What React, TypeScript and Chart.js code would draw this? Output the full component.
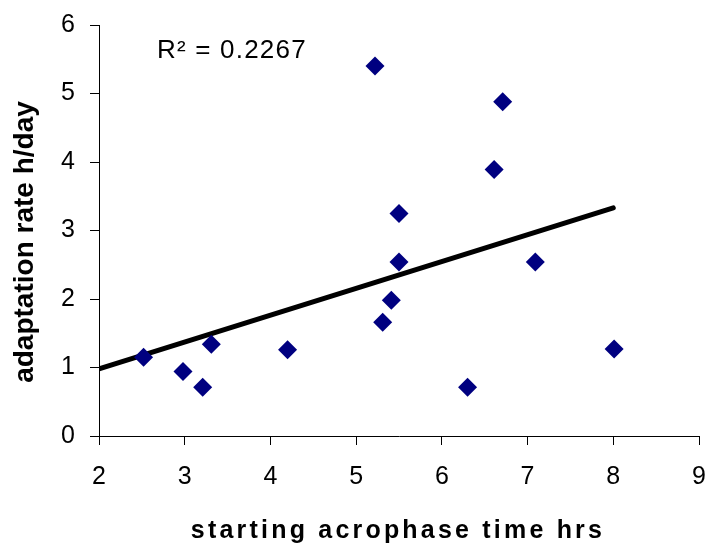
import React, { useEffect, useRef } from 'react';
import { Chart, registerables } from 'chart.js';

Chart.register(...registerables);

const acrophase = [2.52, 2.98, 3.21, 3.31, 4.2, 5.22, 5.31, 5.41, 5.5, 5.5, 6.3, 6.61, 6.71, 7.09, 8.01];
const adaptation = [1.15, 0.94, 0.71, 1.34, 1.26, 5.4, 1.66, 1.98, 3.25, 2.54, 0.71, 3.89, 4.88, 2.54, 1.27];
const trendX = [2, 8];
const trendY = [0.98, 3.33];
const xMin = 2;
const xMax = 9;
const yMin = 0;
const yMax = 6;
const rSquaredLabel = 'R\u00B2 = 0.2267';
const xTitle = 'starting acrophase time hrs';
const yTitle = 'adaptation rate h/day';

const FONT = '"Liberation Sans", Arial, sans-serif';

const textPlugin = {
  id: 'textPlugin',
  afterDraw(chart: any) {
    const { ctx, chartArea } = chart;
    ctx.save();
    ctx.fillStyle = '#000';
    // R squared label
    ctx.font = `26px ${FONT}`;
    (ctx as any).letterSpacing = '1.2px';
    ctx.textAlign = 'left';
    ctx.textBaseline = 'alphabetic';
    ctx.fillText(rSquaredLabel, chartArea.left + 58, chartArea.top + 33);
    // x title
    ctx.font = `bold 25px ${FONT}`;
    (ctx as any).letterSpacing = '3.2px';
    ctx.textAlign = 'center';
    ctx.textBaseline = 'alphabetic';
    ctx.fillText(xTitle, 398, 538);
    // y title
    (ctx as any).letterSpacing = '0px';
    ctx.font = `bold 28px ${FONT}`;
    ctx.translate(33, 242);
    ctx.rotate(-Math.PI / 2);
    ctx.fillText(yTitle, 0, 0);
    ctx.restore();
  },
};

export default function App() {
  const ref = useRef<HTMLCanvasElement | null>(null);
  useEffect(() => {
    if (!ref.current) return;
    const scatterData = acrophase.map((x, i) => ({ x, y: adaptation[i] }));
    const trendData = trendX.map((x, i) => ({ x, y: trendY[i] }));
    const chart = new Chart(ref.current, {
      type: 'scatter',
      data: {
        datasets: [
          {
            type: 'scatter',
            label: 'data',
            data: scatterData,
            pointStyle: 'rectRot',
            pointRadius: 9.5,
            pointHoverRadius: 9.5,
            backgroundColor: '#000080',
            borderColor: '#000080',
            borderWidth: 0,
            order: 0,
          },
          {
            type: 'line',
            label: 'trend',
            data: trendData,
            borderColor: '#000',
            borderWidth: 5,
            borderCapStyle: 'round',
            pointRadius: 0,
            showLine: true,
            fill: false,
            order: 1,
          } as any,
        ],
      },
      options: {
        animation: false,
        responsive: false,
        layout: { padding: { top: 25, right: 10, bottom: 0, left: 0 } },
        plugins: { legend: { display: false }, tooltip: { enabled: false } },
        scales: {
          x: {
            type: 'linear',
            min: xMin,
            max: xMax,
            ticks: { stepSize: 1, color: '#000', font: { size: 25, family: FONT }, padding: 17 },
            grid: { drawOnChartArea: false, drawTicks: true, tickLength: 9, tickColor: '#000', color: '#000' },
            border: { color: '#000', width: 1 },
            afterFit(scale: any) {
              scale.height = 114;
              scale.paddingLeft = 0;
              scale.paddingRight = 0;
            },
          },
          y: {
            type: 'linear',
            min: yMin,
            max: yMax,
            ticks: { stepSize: 1, color: '#000', font: { size: 25, family: FONT }, padding: 15 },
            grid: { drawOnChartArea: false, drawTicks: true, tickLength: 9, tickColor: '#000', color: '#000' },
            border: { color: '#000', width: 1 },
            afterFit(scale: any) {
              scale.width = 99;
              scale.paddingTop = 0;
              scale.paddingBottom = 0;
            },
          },
        },
      },
      plugins: [textPlugin],
    });
    return () => chart.destroy();
  }, []);
  return (
    <div style={{ position: 'absolute', left: 0, top: 0, width: 709, height: 550, background: '#fff' }}>
      <canvas ref={ref} width={709} height={550} style={{ display: 'block' }} />
    </div>
  );
}
